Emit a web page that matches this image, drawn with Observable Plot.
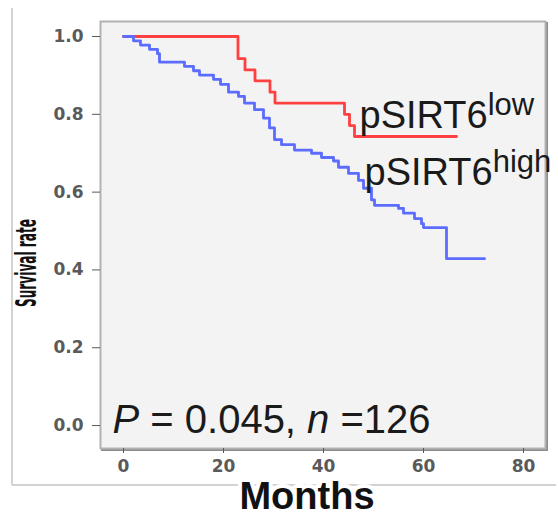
<!DOCTYPE html>
<html><head><meta charset="utf-8">
<script src="https://cdn.jsdelivr.net/npm/d3@7"></script>
<script src="https://cdn.jsdelivr.net/npm/@observablehq/plot@0.6"></script>
<style>
body{margin:0;background:#fff;}
#chart{width:558px;height:516px;}
</style></head><body><div id="chart"></div>
<script>
// pSIRT6 low group (Kaplan–Meier steps)
const lowTimes = [0, 22.9, 24.3, 26.3, 29.3, 30.3, 44.2, 45.2, 46.2, 66.6];
const lowSurv  = [1, 0.943, 0.914, 0.886, 0.857, 0.829, 0.800, 0.771, 0.743, 0.743];
const lowCensor = [47.6, 48.4, 49.2, 50.2, 53.2, 59.6, 60.6, 61.6, 62.6, 66.6];
// pSIRT6 high group
const highTimes = [0, 2.0, 3.4, 5.2, 6.8, 7.2, 12.2, 14.0, 15.2, 18.0, 19.4, 21.0, 23.0, 24.2, 26.2, 28.0, 29.2, 30.2, 31.6, 34.2, 37.6, 39.6, 42.0, 43.0, 45.0, 47.0, 48.0, 49.6, 50.2, 55.0, 56.0, 58.2, 59.6, 60.0, 64.6, 72.2];
const highSurv  = [1, 0.989, 0.978, 0.967, 0.956, 0.934, 0.923, 0.912, 0.901, 0.890, 0.877, 0.857, 0.846, 0.829, 0.812, 0.790, 0.765, 0.735, 0.722, 0.708, 0.700, 0.689, 0.680, 0.664, 0.648, 0.630, 0.610, 0.580, 0.566, 0.558, 0.546, 0.532, 0.519, 0.509, 0.429, 0.429];
const highCensor = [49.0, 49.8, 50.6, 65.2, 66.0, 67.0, 72.2];
const xTicks = [0, 20, 40, 60, 80];
const yTicks = [0, 0.2, 0.4, 0.6, 0.8, 1.0];
const groupLabels = ["pSIRT6", "pSIRT6"];
const groupSups = ["low", "high"];
const xLabel = "Months";
const yLabel = "Survival rate";
const statText = "P = 0.045, n =126";

function stepAt(times, surv, t) {
  let s = surv[0];
  for (let i = 0; i < times.length; i++) if (times[i] <= t) s = surv[i];
  return s;
}
const lowData = lowTimes.map((t, i) => ({t, s: lowSurv[i]}));
const highData = highTimes.map((t, i) => ({t, s: highSurv[i]}));
const lowC = lowCensor.map(t => ({t, s: stepAt(lowTimes, lowSurv, t)}));
const highC = highCensor.map(t => ({t, s: stepAt(highTimes, highSurv, t)}));

const RED = "#ff4040", BLUE = "#5b6cff";

const plot = Plot.plot({
  width: 558, height: 516,
  marginLeft: 100, marginRight: 13, marginTop: 21, marginBottom: 68,
  style: {background: "#fff", fontFamily: "DejaVu Sans", overflow: "visible"},
  x: {domain: [-4.6, 84.4], label: null},
  y: {domain: [-0.059, 1.0386], label: null},
  marks: [
    Plot.frame({dx: 1.5, dy: 1.5, stroke: "#8c8c8c", strokeWidth: 2}),
    Plot.frame({fill: "#f3f3f3", stroke: "#b2b2b2", strokeWidth: 2}),
    Plot.axisY({ticks: yTicks, tickFormat: d => d.toFixed(1), tickSize: 8, tickPadding: 9, fontSize: 17, fontWeight: "bold", color: "#5a5a5a", label: null}),
    Plot.axisX({ticks: xTicks, tickSize: 5, tickPadding: 6, fontSize: 17, fontWeight: "bold", color: "#5a5a5a", label: null}),
    Plot.line(lowData, {x: "t", y: "s", curve: "step-after", stroke: RED, strokeWidth: 2.8}),
    Plot.dot(lowC, {x: "t", y: "s", symbol: "plus", r: 3.4, fill: RED}),
    Plot.line(highData, {x: "t", y: "s", curve: "step-after", stroke: BLUE, strokeWidth: 2.8}),
    Plot.dot(highC, {x: "t", y: "s", symbol: "plus", r: 3.4, fill: BLUE}),
    Plot.text([groupLabels[0]], {x: 47.2, y: 0.766, textAnchor: "start", lineAnchor: "bottom", fontSize: 38, fontFamily: "Liberation Sans", fill: "#1a1a1a"}),
    Plot.text([groupLabels[1]], {x: 48.2, y: 0.618, textAnchor: "start", lineAnchor: "bottom", fontSize: 38, fontFamily: "Liberation Sans", fill: "#1a1a1a"}),
    Plot.text([statText], {frameAnchor: "bottom-left", dx: 12, dy: -16, textAnchor: "start", lineAnchor: "bottom", fontSize: 40, fontFamily: "Liberation Sans", fill: "#1a1a1a"}),
    Plot.text([xLabel], {frameAnchor: "bottom", dx: -16, dy: 48, lineAnchor: "middle", fontSize: 38, fontWeight: "bold", fontFamily: "Liberation Sans", fill: "#111", stroke: "white", strokeWidth: 8}),
    Plot.text([yLabel], {frameAnchor: "left", dx: -73, dy: 72, rotate: -90, textAnchor: "start", lineAnchor: "middle", fontSize: 28, fontWeight: "bold", fontFamily: "DejaVu Sans", fill: "#111"})
  ]
});
document.getElementById("chart").appendChild(plot);

const svg = d3.select(plot);
// superscripts on group labels
let k = 0;
svg.selectAll("text").filter(function() { return this.textContent === "pSIRT6" && this.childElementCount === 0; })
  .each(function() {
    d3.select(this).append("tspan").attr("font-size", 31).attr("dy", -13).text(groupSups[k++]);
  });
// italics in the statistics line
svg.selectAll("text").filter(function() { return this.textContent === statText; })
  .each(function() {
    const t = d3.select(this).style("white-space", "pre");
    t.text(null);
    t.append("tspan").attr("font-style", "italic").text("P");
    t.append("tspan").text(" = 0.045, ");
    t.append("tspan").attr("font-style", "italic").text("n");
    t.append("tspan").text(" =126");
  });
// condensed y-axis title
svg.selectAll("text").filter(function() { return this.textContent === yLabel; })
  .attr("textLength", 88).attr("lengthAdjust", "spacingAndGlyphs");
// outer panel border lines (decoration)
const deco = svg.insert("g", ":first-child").attr("stroke", "#c4c4c4").attr("stroke-width", 1.5);
deco.append("line").attr("x1", 12).attr("x2", 12).attr("y1", 8).attr("y2", 485);
deco.append("line").attr("x1", 12).attr("x2", 556).attr("y1", 485).attr("y2", 485);
</script></body></html>
